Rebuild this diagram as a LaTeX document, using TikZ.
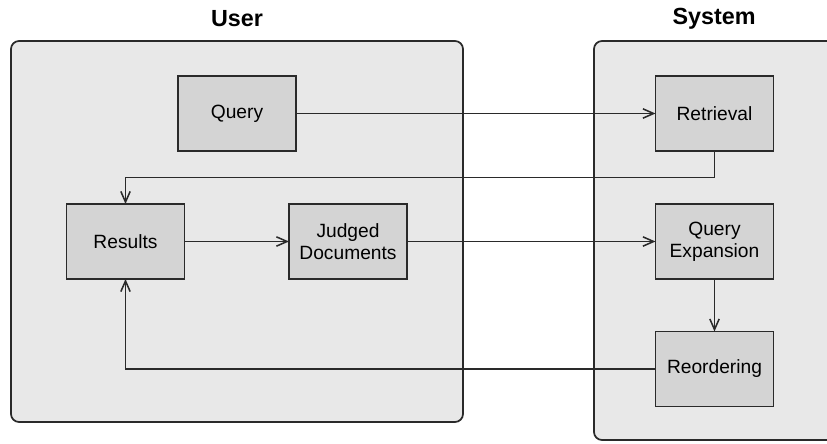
\documentclass[tikz,border=0pt]{standalone}
\usepackage{fontspec}
\setmainfont{Liberation Sans}
\usetikzlibrary{arrows.meta}
\definecolor{panelfill}{HTML}{E8E8E8}
\definecolor{boxfill}{HTML}{D4D4D4}
\definecolor{edge}{HTML}{2A2A2A}
\begin{document}
\begin{tikzpicture}[x=0.75pt,y=-0.75pt,
  panel/.style={draw=edge, line width=1.3pt, fill=panelfill, rounded corners=6pt},
  stepbox/.style={draw=edge, line width=1.2pt, fill=boxfill, minimum width=88.5pt,
    minimum height=56.25pt, align=center, inner sep=2pt, outer sep=0pt,
    font=\fontsize{14.4}{16.5}\selectfont},
  title/.style={font=\bfseries\fontsize{17.5}{20}\selectfont},
  flow/.style={draw=edge, line width=1.15pt,
    -{Straight Barb[length=8pt,width=7pt,line width=1.15pt]}}]
\useasboundingbox (0,0) rectangle (827,443);
\clip (0,0) rectangle (827,443);
\fill[white] (0,0) rectangle (827,443);

% swimlane panels
\draw[panel] (11,41) rectangle (463,422);
\draw[panel] (594,41) rectangle (870,440);
\node[title] (usertitle) at (237,19) {User};
\node[title] (systitle) at (714,19) {System};

% process steps
\node[stepbox] (query) at (237,113.5) {Query};
\node[stepbox] (retrieval) at (714.5,113.5) {Retrieval};
\node[stepbox] (results) at (125.5,241.5) {Results};
\node[stepbox] (judged) at (348,241.5) {Judged\\Documents};
\node[stepbox] (qexp) at (714.5,241.5) {Query\\Expansion};
\node[stepbox] (reorder) at (714.5,369) {Reordering};

% flow between steps
\coordinate (bend) at (0,177.5);
\draw[flow] (query) -- (retrieval);
\draw[flow] (retrieval.south) -- (retrieval.south |- bend) -| (results.north);
\draw[flow] (results) -- (judged);
\draw[flow] (judged) -- (qexp);
\draw[flow] (qexp) -- (reorder);
\draw[flow] (reorder.west) -| (results.south);
\end{tikzpicture}
\end{document}
